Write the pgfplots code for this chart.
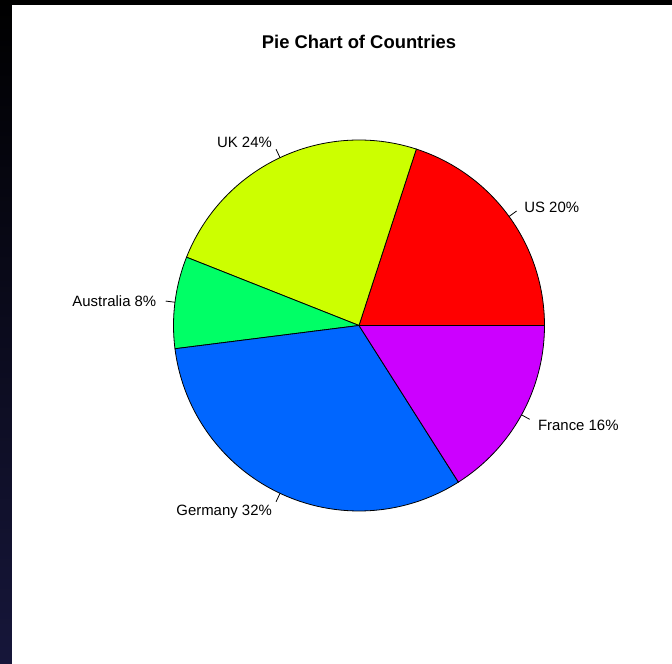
\documentclass[border=0pt]{standalone}
\usepackage{pgfplots}
\pgfplotsset{compat=1.18}
\usepackage{fontspec}
\setmainfont{Liberation Sans}
\definecolor{cUS}{HTML}{FF0000}
\definecolor{cUK}{HTML}{CCFF00}
\definecolor{cAU}{HTML}{00FF66}
\definecolor{cDE}{HTML}{0066FF}
\definecolor{cFR}{HTML}{CC00FF}
\definecolor{navy}{RGB}{22,22,58}
% pie geometry in pixel units: centre (359,338.5), radius 185.5
% #1 start angle, #2 end angle, #3 colour, #4 label, #5 anchor
\newcommand\slice[5]{%
  \addplot[fill=#3, draw=black, line width=0.6pt, domain=#1:#2, samples=80, variable=\t]
    ({359+185.5*cos(\t)},{338.5+185.5*sin(\t)}) -- (axis cs:359,338.5) -- cycle;
  \addplot[black, line width=0.6pt, domain=1:1.05, samples=2, variable=\s]
    ({359+185.5*\s*cos((#1+#2)/2)},{338.5+185.5*\s*sin((#1+#2)/2)});
  \node[anchor=#5, inner sep=0pt, font=\fontsize{11.2}{13}\selectfont]
    at (axis cs:{359+204.05*cos((#1+#2)/2)},{336.8+204.05*sin((#1+#2)/2)}) {#4};
}
\begin{document}
\begin{tikzpicture}
\begin{axis}[scale only axis, width=504pt, height=498pt,
  xmin=0, xmax=672, ymin=0, ymax=664, hide axis, clip=false]
  \shade[top color=black, bottom color=navy] (axis cs:0,0) rectangle (axis cs:672,664);
  \fill[black] (axis cs:0,659) rectangle (axis cs:672,664);
  \fill[white] (axis cs:12,0) rectangle (axis cs:672,659);
  % shares (percent): US 20, UK 24, Australia 8, Germany 32, France 16
  \slice{0}{72}{cUS}{US 20\%}{west}
  \slice{72}{158.4}{cUK}{UK 24\%}{east}
  \slice{158.4}{187.2}{cAU}{Australia 8\%}{east}
  \slice{187.2}{302.4}{cDE}{Germany 32\%}{east}
  \slice{302.4}{360}{cFR}{France 16\%}{west}
  \node[font=\fontsize{13.8}{16}\selectfont\bfseries] at (axis cs:359,622) {Pie Chart of Countries};
\end{axis}
\end{tikzpicture}
\end{document}
